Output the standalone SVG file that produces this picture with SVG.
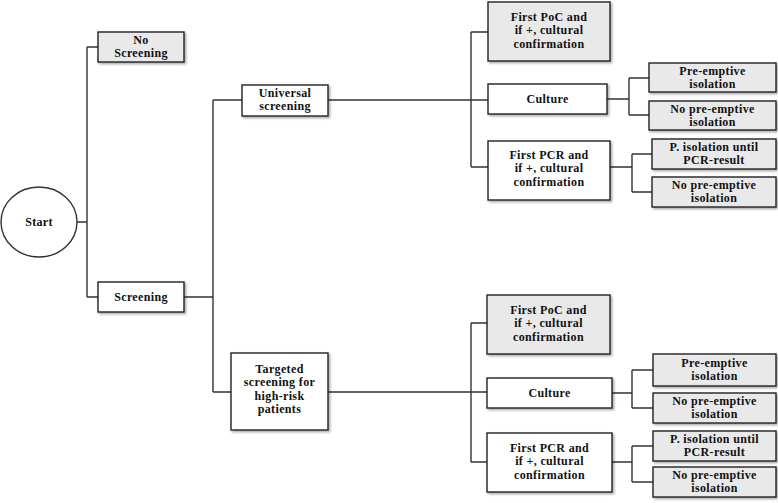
<svg xmlns="http://www.w3.org/2000/svg" width="778" height="503" viewBox="0 0 778 503">
<defs>
<filter id="sh" x="-10%" y="-10%" width="130%" height="140%">
<feDropShadow dx="1.5" dy="1.5" stdDeviation="1" flood-color="#000" flood-opacity="0.35"/>
</filter>
</defs>
<style>
.box{stroke:#222;stroke-width:1.4;filter:url(#sh)}
.g{fill:#e9e9e9}
.w{fill:#ffffff}
.t{font-family:"Liberation Serif","Times New Roman",serif;font-weight:bold;font-size:12px;letter-spacing:0.35px;fill:#111;text-anchor:middle}
.c{fill:none;stroke:#333;stroke-width:1.4}
</style>
<rect width="778" height="503" fill="#fff"/>
<g id="connectors" class="c">
<path d="M77,222H87M87,47V297M87,47H98M87,297H98"/>
<path d="M184,297H213M213,100V392M213,100H242M213,392H231"/>
<path d="M328,100H488M471,32V167M471,32H488M471,167H488"/>
<path d="M328,392H488M471,323V462M471,323H487M471,462H487"/>
<path d="M607,99H629M629,78V115M629,78H649M629,115H649"/>
<path d="M610,167H632M632,154V192M632,154H652M632,192H652"/>
<path d="M612,393H632M632,370V408M632,370H653M632,408H653"/>
<path d="M612,462H632M632,446V482M632,446H653M632,482H653"/>
</g>
<g id="start">
<ellipse cx="39" cy="222" rx="38" ry="35" fill="#fff" stroke="#333" stroke-width="1.4"/>
<text class="t" x="39" y="226">Start</text>
</g>
<g id="no-screening">
<rect class="box g" x="98" y="32" width="86" height="30"/>
<text class="t" x="141" y="44">No<tspan x="141" dy="13.4">Screening</tspan></text>
</g>
<g id="screening">
<rect class="box w" x="98" y="282" width="86" height="30"/>
<text class="t" x="141" y="301">Screening</text>
</g>
<g id="universal">
<rect class="box w" x="242" y="85" width="86" height="31"/>
<text class="t" x="285" y="97">Universal<tspan x="285" dy="13.4">screening</tspan></text>
</g>
<g id="targeted">
<rect class="box w" x="231" y="353" width="97" height="77"/>
<text class="t" x="279.5" y="373">Targeted<tspan x="279.5" dy="13.4">screening for</tspan><tspan x="279.5" dy="13.4">high-risk</tspan><tspan x="279.5" dy="13.4">patients</tspan></text>
</g>
<g id="u-poc">
<rect class="box g" x="488" y="2" width="122" height="59"/>
<text class="t" x="549" y="21">First PoC and<tspan x="549" dy="13.4">if +, cultural</tspan><tspan x="549" dy="13.4">confirmation</tspan></text>
</g>
<g id="u-culture">
<rect class="box w" x="488" y="84" width="119" height="30"/>
<text class="t" x="547.5" y="103">Culture</text>
</g>
<g id="u-pcr">
<rect class="box w" x="488" y="141" width="122" height="59"/>
<text class="t" x="549" y="159">First PCR and<tspan x="549" dy="13.4">if +, cultural</tspan><tspan x="549" dy="13.4">confirmation</tspan></text>
</g>
<g id="u-c-pre">
<rect class="box g" x="649" y="63" width="127" height="29"/>
<text class="t" x="712.5" y="74.5">Pre-emptive<tspan x="712.5" dy="13.4">isolation</tspan></text>
</g>
<g id="u-c-nopre">
<rect class="box g" x="649" y="101" width="127" height="29"/>
<text class="t" x="712.5" y="112.5">No pre-emptive<tspan x="712.5" dy="13.4">isolation</tspan></text>
</g>
<g id="u-p-piso">
<rect class="box g" x="652" y="139" width="124" height="30"/>
<text class="t" x="714" y="151">P. isolation until<tspan x="714" dy="13.4">PCR-result</tspan></text>
</g>
<g id="u-p-nopre">
<rect class="box g" x="652" y="177" width="124" height="30"/>
<text class="t" x="714" y="189">No pre-emptive<tspan x="714" dy="13.4">isolation</tspan></text>
</g>
<g id="t-poc">
<rect class="box g" x="487" y="295" width="123" height="59"/>
<text class="t" x="548.5" y="314">First PoC and<tspan x="548.5" dy="13.4">if +, cultural</tspan><tspan x="548.5" dy="13.4">confirmation</tspan></text>
</g>
<g id="t-culture">
<rect class="box w" x="487" y="378" width="125" height="30"/>
<text class="t" x="549.5" y="397">Culture</text>
</g>
<g id="t-pcr">
<rect class="box w" x="487" y="433" width="125" height="59"/>
<text class="t" x="549.5" y="452">First PCR and<tspan x="549.5" dy="13.4">if +, cultural</tspan><tspan x="549.5" dy="13.4">confirmation</tspan></text>
</g>
<g id="t-c-pre">
<rect class="box g" x="653" y="354" width="123" height="32"/>
<text class="t" x="714.5" y="367">Pre-emptive<tspan x="714.5" dy="13.4">isolation</tspan></text>
</g>
<g id="t-c-nopre">
<rect class="box g" x="653" y="393" width="123" height="30"/>
<text class="t" x="714.5" y="405">No pre-emptive<tspan x="714.5" dy="13.4">isolation</tspan></text>
</g>
<g id="t-p-piso">
<rect class="box g" x="653" y="431" width="123" height="30"/>
<text class="t" x="714.5" y="443">P. isolation until<tspan x="714.5" dy="13.4">PCR-result</tspan></text>
</g>
<g id="t-p-nopre">
<rect class="box g" x="653" y="467" width="123" height="30"/>
<text class="t" x="714.5" y="479">No pre-emptive<tspan x="714.5" dy="13.4">isolation</tspan></text>
</g>
</svg>
